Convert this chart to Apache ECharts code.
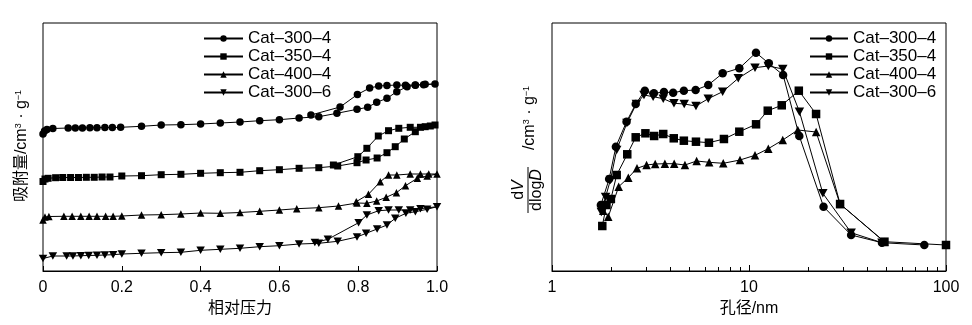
<!DOCTYPE html>
<html>
<head>
<meta charset="utf-8">
<script src="https://cdn.jsdelivr.net/npm/echarts@6/dist/echarts.min.js"></script>
<style>
html,body{margin:0;padding:0;background:#fff;}
#chart{width:972px;height:325px;}
</style>
</head>
<body>
<div id="chart"></div>
<script>
// ---------- DATA ----------
const seriesNames = ['Cat\u2013300\u20134', 'Cat\u2013350\u20134', 'Cat\u2013400\u20134', 'Cat\u2013300\u20136'];

// Left panel: N2 isotherms (relative pressure, adsorbed amount in arbitrary offset units)
const cat300_4_adsP = [0.000,0.004,0.010,0.025,0.064,0.082,0.100,0.119,0.137,0.157,0.176,0.197,0.25,0.30,0.35,0.40,0.45,0.50,0.55,0.60,0.65,0.70,0.746,0.797,0.824,0.847,0.873,0.898,0.924,0.945,0.966,0.995];
const cat300_4_adsV = [137,140,141.5,142.5,143,143,143,143.3,143.3,143.5,143.5,143.7,144.7,146,146.3,147,148,149,150.3,151.3,153,154.3,157.7,161.7,163.7,168.7,172.7,179.3,184.3,185.7,186.3,187];
const cat300_4_desP = [0.970,0.945,0.920,0.898,0.873,0.852,0.829,0.798,0.754,0.680];
const cat300_4_desV = [186.7,186,185.7,186,185.5,185,183,176.5,164,156];

const cat350_4_adsP = [0.000,0.005,0.013,0.032,0.050,0.070,0.090,0.110,0.130,0.150,0.170,0.200,0.25,0.30,0.35,0.40,0.45,0.50,0.55,0.60,0.65,0.70,0.748,0.797,0.820,0.848,0.873,0.894,0.917,0.945,0.970,0.995];
const cat350_4_adsV = [89.5,92,92.7,93.3,93.5,93.5,93.5,93.7,93.7,94,94,95,95.3,96.3,96.7,97.7,98.3,98.7,100.3,101.3,102.7,103.3,105,108.3,111,113,118.3,124.3,132,139.3,144.3,146];
const cat350_4_desP = [0.983,0.958,0.932,0.903,0.877,0.851,0.822,0.799,0.737];
const cat350_4_desV = [145,143.7,143.7,142.7,140.3,135,122.7,114.3,106];

const cat400_4_adsP = [0.000,0.005,0.015,0.053,0.074,0.096,0.117,0.137,0.159,0.178,0.200,0.25,0.30,0.35,0.40,0.45,0.50,0.55,0.60,0.644,0.70,0.75,0.797,0.822,0.847,0.871,0.897,0.920,0.950,0.975,1.000];
const cat400_4_adsV = [51,54,54.5,54.7,54.7,54.7,54.7,54.7,54.7,54.7,55,56,56.3,57,58,57.7,58.5,59.7,61,62.3,63.3,65,68,67.7,70,73.7,78.3,85.3,92.7,95,97];
const cat400_4_desP = [0.979,0.958,0.932,0.898,0.877,0.856,0.826,0.795];
const cat400_4_desV = [97,97,97,96,96,89.3,76.7,69.3];

const cat300_6_adsP = [0.000,0.025,0.060,0.076,0.096,0.116,0.137,0.157,0.178,0.200,0.25,0.30,0.35,0.40,0.45,0.50,0.55,0.60,0.65,0.70,0.748,0.797,0.820,0.848,0.873,0.894,0.921,0.945,0.975,1.000];
const cat300_6_adsV = [12.5,15,15,15,15.3,15.5,15.7,16,16.3,17,17.7,18.3,18.7,20.7,21.7,22.7,24.3,25.3,27,27.7,29.7,34,37.7,42,46,52.7,57.7,59.3,61.7,64.3];
const cat300_6_desP = [0.958,0.932,0.903,0.877,0.852,0.822,0.801,0.723,0.690];
const cat300_6_desV = [62.3,61,61,61,60.3,56,48.3,31.7,28.5];

const leftTicks = ['0', '0.2', '0.4', '0.6', '0.8', '1.0'];

// Right panel: pore size distribution (pore diameter nm, dV/dlogD arbitrary units)
const psd300_4_D = [1.77,1.95,2.11,2.39,2.66,2.96,3.29,3.70,4.12,4.67,5.36,6.21,7.35,8.93,10.85,12.6,14.9,18.0,23.9,33.0,47.3,77.6];
const psd300_4_V = [66,92,124.3,149.3,167,180.3,177.7,179,178.3,180.3,181,186,197.7,202.7,218.3,207.7,196,135,64.3,36,28.3,26];
const psd350_4_D = [1.80,1.89,1.99,2.13,2.41,2.66,2.98,3.30,3.67,4.15,4.67,5.38,6.26,7.46,8.93,10.86,12.45,14.66,17.9,21.9,29.0,48.7,100];
const psd350_4_V = [45,66,72,96,116.7,133.7,137.7,135,137,132.7,130.3,129.3,128.3,132,139.3,146.7,160.3,165.7,180.3,157,67,29.3,26];
const psd400_4_D = [1.82,1.93,2.18,2.44,2.70,3.02,3.34,3.74,4.17,4.73,5.42,6.28,7.40,9.0,10.73,12.53,14.84,17.69,21.91,29.0,48.7];
const psd400_4_V = [60.3,54.3,84.3,93.3,102.7,106,107,107.3,107.3,106,110,108.7,107.7,111,115.7,122.3,131,141,139,67,29];
const psd300_6_D = [1.78,1.87,1.98,2.13,2.40,2.68,2.93,3.26,3.67,4.16,4.69,5.38,6.21,7.35,8.82,10.73,12.53,14.84,18.03,23.7,33.0,47.3];
const psd300_6_V = [59,74,91,121,148,167,176,174.3,172.3,167.7,167,165,172.3,179.3,192.7,203.3,205,202,159.3,77.7,38.3,28.3];

const rightTicks = {1: '1', 10: '10', 100: '100'};
const rightMinorTicks = [2,3,4,5,6,7,8,9,20,30,40,50,60,70,80,90];

// ---------- CHART ----------
const FONT = "'Liberation Sans', 'Noto Sans CJK SC', sans-serif";
const DOWN_TRI = 'path://M0,0L10,0L5,8.66Z';
const symbols = ['circle', 'rect', 'triangle', DOWN_TRI];
const leftSizes = [7.5, 7, 7.5, [8.5, 7.5]];
const rightSizes = [8.5, 8.5, 8.5, [9.5, 8.5]];

function zip(a, b) { return a.map((x, i) => [x, b[i]]); }

const isoData = [
  zip(cat300_4_adsP, cat300_4_adsV).concat(zip(cat300_4_desP, cat300_4_desV)),
  zip(cat350_4_adsP, cat350_4_adsV).concat(zip(cat350_4_desP, cat350_4_desV)),
  zip(cat400_4_adsP, cat400_4_adsV).concat(zip(cat400_4_desP, cat400_4_desV)),
  zip(cat300_6_adsP, cat300_6_adsV).concat(zip(cat300_6_desP, cat300_6_desV))
];
const psdData = [
  zip(psd300_4_D, psd300_4_V),
  zip(psd350_4_D, psd350_4_V),
  zip(psd400_4_D, psd400_4_V),
  zip(psd300_6_D, psd300_6_V)
];

const series = [];
seriesNames.forEach((name, i) => {
  series.push({
    type: 'line', name: name, xAxisIndex: 0, yAxisIndex: 0,
    data: isoData[i], symbol: symbols[i], symbolSize: leftSizes[i],
    lineStyle: {color: '#000', width: 1}, itemStyle: {color: '#000'},
    emphasis: {disabled: true}, animation: false
  });
});
seriesNames.forEach((name, i) => {
  series.push({
    type: 'line', name: name, xAxisIndex: 1, yAxisIndex: 1,
    data: psdData[i], symbol: symbols[i], symbolSize: rightSizes[i],
    lineStyle: {color: '#000', width: 1}, itemStyle: {color: '#000'},
    emphasis: {disabled: true}, animation: false
  });
});

const legendCommon = {
  orient: 'vertical', top: 30, padding: 0, itemHeight: 8, itemGap: 1,
  data: seriesNames, selectedMode: false,
  textStyle: {fontSize: 17, lineHeight: 17, color: '#000', fontFamily: FONT}
};

const chart = echarts.init(document.getElementById('chart'), null, {renderer: 'canvas'});
chart.setOption({
  backgroundColor: '#fff',
  animation: false,
  textStyle: {fontFamily: FONT},
  grid: [
    {left: 43, right: 535, top: 23, bottom: 54, show: true, borderColor: '#000', borderWidth: 1, outerBoundsMode: 'none'},
    {left: 552, right: 26, top: 23, bottom: 54, show: true, borderColor: '#000', borderWidth: 1, outerBoundsMode: 'none'}
  ],
  legend: [
    Object.assign({left: 203, itemWidth: 39}, legendCommon),
    Object.assign({left: 809, itemWidth: 38}, legendCommon)
  ],
  xAxis: [
    {
      type: 'value', gridIndex: 0, position: 'bottom', min: 0, max: 1, interval: 0.2,
      name: '相对压力', nameLocation: 'middle', nameGap: 27,
      nameTextStyle: {fontSize: 16, color: '#000', fontFamily: FONT},
      axisLine: {show: true, lineStyle: {color: '#000', width: 1}},
      axisTick: {show: true, inside: true, length: 5, lineStyle: {color: '#000'}},
      axisLabel: {fontSize: 16, color: '#000', margin: 9, fontFamily: FONT,
        formatter: v => leftTicks[Math.round(v / 0.2)]},
      splitLine: {show: false}
    },
    {
      type: 'log', logBase: 10, gridIndex: 1, position: 'bottom', min: 1, max: 100,
      name: '孔径/nm', nameLocation: 'middle', nameGap: 27,
      nameTextStyle: {fontSize: 16, color: '#000', fontFamily: FONT},
      axisLine: {show: true, lineStyle: {color: '#000', width: 1}},
      axisTick: {show: true, inside: true, length: 6, lineStyle: {color: '#000'}},
      axisLabel: {fontSize: 16, color: '#000', margin: 9, fontFamily: FONT,
        formatter: v => rightTicks[Math.round(v)] || ''},
      splitLine: {show: false}
    },
    {
      type: 'log', logBase: 10, gridIndex: 1, position: 'bottom', offset: 0, min: 1, max: 100,
      axisLine: {show: false},
      axisTick: {show: true, inside: true, length: 4, lineStyle: {color: '#000'}, customValues: rightMinorTicks},
      axisLabel: {show: false},
      splitLine: {show: false}
    }
  ],
  yAxis: [
    {type: 'value', gridIndex: 0, min: 0, max: 248, axisLine: {show: false}, axisTick: {show: false}, axisLabel: {show: false}, splitLine: {show: false}},
    {type: 'value', gridIndex: 1, min: 0, max: 248, axisLine: {show: false}, axisTick: {show: false}, axisLabel: {show: false}, splitLine: {show: false}}
  ],
  graphic: [
    {
      type: 'text', x: 22, y: 146, rotation: Math.PI / 2,
      style: {
        text: '吸附量/cm{sup|3} · g{sup|\u22121}',
        fontSize: 16, fontFamily: FONT, fill: '#000', align: 'center', verticalAlign: 'middle',
        rich: {sup: {fontSize: 9, fontFamily: FONT, fill: '#000', verticalAlign: 'top'}}
      }
    },
    {
      type: 'text', x: 519, y: 190, rotation: Math.PI / 2,
      style: {
        text: 'd{it|V}', fontSize: 16, fontFamily: FONT, fill: '#000', align: 'center', verticalAlign: 'middle',
        rich: {it: {fontSize: 16, fontStyle: 'italic', fontFamily: FONT, fill: '#000'}}
      }
    },
    {
      type: 'line', shape: {x1: 528, y1: 167, x2: 528, y2: 213},
      style: {stroke: '#000', lineWidth: 1}
    },
    {
      type: 'text', x: 537, y: 190, rotation: Math.PI / 2,
      style: {
        text: 'dlog{it|D}', fontSize: 16, fontFamily: FONT, fill: '#000', align: 'center', verticalAlign: 'middle',
        rich: {it: {fontSize: 16, fontStyle: 'italic', fontFamily: FONT, fill: '#000'}}
      }
    },
    {
      type: 'text', x: 530, y: 118, rotation: Math.PI / 2,
      style: {
        text: '/cm{sup|3} · g{sup|\u22121}',
        fontSize: 16, fontFamily: FONT, fill: '#000', align: 'center', verticalAlign: 'middle',
        rich: {sup: {fontSize: 9, fontFamily: FONT, fill: '#000', verticalAlign: 'top'}}
      }
    }
  ],
  series: series
});
</script>
</body>
</html>
